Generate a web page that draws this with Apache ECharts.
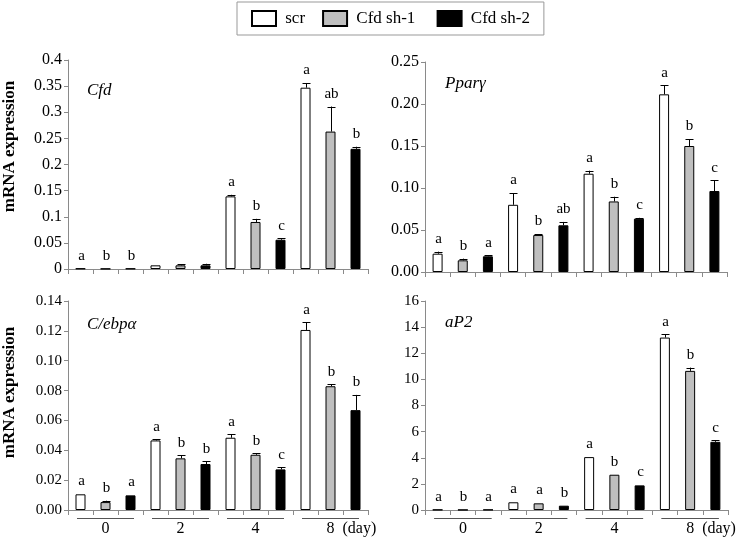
<!DOCTYPE html>
<html><head><meta charset="utf-8">
<script src="https://cdn.jsdelivr.net/npm/echarts@6/dist/echarts.min.js"></script>
<style>html,body{margin:0;padding:0;background:#fff}#c{width:743px;height:541px}</style>
</head><body><div id="c"></div>
<script>
// ---------- data ----------
const days = ['0', '2', '4', '8'];
const dayUnit = '(day)';
const seriesNames = ['scr', 'Cfd sh-1', 'Cfd sh-2'];
const genes = ['Cfd', 'Pparγ', 'C/ebpα', 'aP2'];

// Cfd
const cfdScr = [0.001, 0.007, 0.139, 0.347];
const cfdScrErr = [0.0003, 0.001, 0.003, 0.009];
const cfdSh1 = [0.0005, 0.007, 0.090, 0.263];
const cfdSh1Err = [0.0002, 0.002, 0.006, 0.048];
const cfdSh2 = [0.0008, 0.007, 0.056, 0.230];
const cfdSh2Err = [0.0002, 0.003, 0.003, 0.004];
const cfdLetScr = ['a', '', 'a', 'a'];
const cfdLetSh1 = ['b', '', 'b', 'ab'];
const cfdLetSh2 = ['b', '', 'c', 'b'];

// Pparγ
const pparScr = [0.0218, 0.080, 0.117, 0.2115];
const pparScrErr = [0.0024, 0.014, 0.0036, 0.0107];
const pparSh1 = [0.0139, 0.044, 0.084, 0.150];
const pparSh1Err = [0.002, 0.0012, 0.0056, 0.0083];
const pparSh2 = [0.0187, 0.0556, 0.0635, 0.0964];
const pparSh2Err = [0.001, 0.004, 0.001, 0.013];
const pparLetScr = ['a', 'a', 'a', 'a'];
const pparLetSh1 = ['b', 'b', 'b', 'b'];
const pparLetSh2 = ['a', 'ab', 'c', 'c'];

// C/ebpα
const cebpScr = [0.0105, 0.0466, 0.0484, 0.1206];
const cebpScrErr = [0.0003, 0.0009, 0.0022, 0.0051];
const cebpSh1 = [0.0053, 0.0346, 0.0370, 0.0829];
const cebpSh1Err = [0.0009, 0.0022, 0.0011, 0.0013];
const cebpSh2 = [0.0098, 0.0308, 0.0272, 0.0669];
const cebpSh2Err = [0.0005, 0.0018, 0.0013, 0.0102];
const cebpLetScr = ['a', 'a', 'a', 'a'];
const cebpLetSh1 = ['b', 'b', 'b', 'b'];
const cebpLetSh2 = ['a', 'b', 'c', 'b'];

// aP2
const ap2Scr = [0.02, 0.59, 4.05, 13.2];
const ap2ScrErr = [0.01, 0.05, 0.05, 0.25];
const ap2Sh1 = [0.01, 0.51, 2.70, 10.65];
const ap2Sh1Err = [0.01, 0.04, 0.03, 0.25];
const ap2Sh2 = [0.02, 0.33, 1.885, 5.22];
const ap2Sh2Err = [0.01, 0.03, 0.03, 0.13];
const ap2LetScr = ['a', 'a', 'a', 'a'];
const ap2LetSh1 = ['b', 'a', 'b', 'b'];
const ap2LetSh2 = ['a', 'b', 'c', 'c'];

// y-axis scales
const yMax = [0.4, 0.25, 0.14, 16];
const yInterval = [0.05, 0.05, 0.02, 2];
const yDecimals = [-1, 2, 2, 0];

// ---------- build ----------
const panels = [
  {vals: [cfdScr, cfdSh1, cfdSh2], errs: [cfdScrErr, cfdSh1Err, cfdSh2Err], lets: [cfdLetScr, cfdLetSh1, cfdLetSh2]},
  {vals: [pparScr, pparSh1, pparSh2], errs: [pparScrErr, pparSh1Err, pparSh2Err], lets: [pparLetScr, pparLetSh1, pparLetSh2]},
  {vals: [cebpScr, cebpSh1, cebpSh2], errs: [cebpScrErr, cebpSh1Err, cebpSh2Err], lets: [cebpLetScr, cebpLetSh1, cebpLetSh2]},
  {vals: [ap2Scr, ap2Sh1, ap2Sh2], errs: [ap2ScrErr, ap2Sh1Err, ap2Sh2Err], lets: [ap2LetScr, ap2LetSh1, ap2LetSh2]}
];

const F = 'Liberation Serif';
const AX = '#8a8a8a';
const barStyles = [
  {color: '#ffffff', borderColor: '#000', borderWidth: 1},
  {color: '#bfbfbf', borderColor: '#000', borderWidth: 1},
  {color: '#000000', borderColor: '#000', borderWidth: 1}
];
const grids = [
  {left: 68, top: 60, width: 300, height: 209},
  {left: 425, top: 62, width: 302, height: 210},
  {left: 68, top: 301, width: 300, height: 209},
  {left: 425, top: 301, width: 303, height: 209}
];
const titlePos = [
  {left: 82, top: 77}, {left: 440, top: 70}, {left: 82, top: 311}, {left: 440, top: 309}
];

const slots = [];
days.forEach(d => seriesNames.forEach(s => slots.push(d + '_' + s)));

const xAxes = [], yAxes = [], series = [], titles = [];
panels.forEach((p, pi) => {
  titles.push({text: genes[pi], left: titlePos[pi].left, top: titlePos[pi].top,
    textStyle: {fontFamily: F, fontSize: 17, fontStyle: 'italic', fontWeight: 'normal', color: '#000'}});
  xAxes.push({type: 'category', gridIndex: pi, data: slots, boundaryGap: true,
    axisLine: {lineStyle: {color: AX, width: 1}},
    axisTick: {show: true, alignWithLabel: false, inside: false, length: 5, interval: 0, lineStyle: {color: AX}},
    axisLabel: {show: false}, splitLine: {show: false}});
  const dec = yDecimals[pi];
  const ya = {type: 'value', gridIndex: pi, min: 0, max: yMax[pi], interval: yInterval[pi],
    axisLine: {show: true, lineStyle: {color: AX, width: 1}},
    axisTick: {show: true, length: 4, lineStyle: {color: AX}},
    splitLine: {show: false},
    axisLabel: {fontFamily: F, fontSize: pi < 2 ? 16 : 15, color: '#000', margin: 6,
      formatter: v => dec < 0 ? String(+v.toFixed(3)) : v.toFixed(dec)}};
  if (pi % 2 === 0) {
    ya.name = 'mRNA expression';
    ya.nameLocation = 'middle';
    ya.nameGap = 50;
    ya.nameTextStyle = {fontFamily: F, fontSize: 17, fontWeight: 'bold', color: '#000',
      padding: [0, 0, 0, pi === 0 ? 36 : 26]};
  }
  yAxes.push(ya);

  // bars
  for (let s = 0; s < 3; s++) {
    const data = slots.map(() => null);
    p.vals[s].forEach((v, d) => { data[d * 3 + s] = v; });
    series.push({type: 'bar', name: seriesNames[s], xAxisIndex: pi, yAxisIndex: pi,
      data, barWidth: 10, barGap: '-100%', itemStyle: barStyles[s], animation: false});
  }
  // error bars + letters
  const eData = [], eLet = [];
  for (let d = 0; d < 4; d++) for (let s = 0; s < 3; s++) {
    eData.push([d * 3 + s, p.vals[s][d], p.errs[s][d]]);
    eLet.push(p.lets[s][d]);
  }
  series.push({type: 'custom', xAxisIndex: pi, yAxisIndex: pi, data: eData, clip: false, animation: false,
    z: 5, silent: true,
    renderItem: (params, api) => {
      const x = api.value(0), v = api.value(1), e = api.value(2);
      const b = api.coord([x, v]), t = api.coord([x, v + e]);
      const cx = Math.round(b[0]) + 0.5;
      const children = [];
      if (t[1] < b[1] - 0.8) {
        children.push({type: 'line', shape: {x1: cx, y1: b[1], x2: cx, y2: t[1]}, style: {stroke: '#000', lineWidth: 1}});
        children.push({type: 'line', shape: {x1: cx - 4, y1: Math.round(t[1]) + 0.5, x2: cx + 4, y2: Math.round(t[1]) + 0.5}, style: {stroke: '#000', lineWidth: 1}});
      }
      const letter = eLet[params.dataIndex];
      if (letter) children.push({type: 'text', x: cx, y: t[1] - 5,
        style: {text: letter, font: '15px "Liberation Serif"', fill: '#000', align: 'center', verticalAlign: 'bottom'}});
      return {type: 'group', children};
    }});
});

// day axes for bottom panels
[2, 3].forEach((pi, k) => {
  const xi = xAxes.length;
  xAxes.push({type: 'category', gridIndex: pi, position: 'bottom', data: days, boundaryGap: true,
    axisLine: {show: false}, axisTick: {show: false},
    axisLabel: {interval: 0, fontFamily: F, fontSize: 16, color: '#000', margin: 11, hideOverlap: false,
      formatter: (v, i) => i === days.length - 1 ? '{h|' + dayUnit + '  }' + v + '  ' + dayUnit : v,
      rich: {h: {color: 'rgba(0,0,0,0)', fontFamily: F, fontSize: 16}}}});
  series.push({type: 'custom', xAxisIndex: xi, yAxisIndex: pi, data: days.map((d, i) => [i, 0]),
    clip: false, animation: false, silent: true,
    renderItem: (params, api) => {
      const c = api.coord([api.value(0), 0]);
      const w = api.size([1, 0])[0] * 0.76;
      const y = Math.round(c[1]) + 8.5;
      return {type: 'line', shape: {x1: c[0] - w / 2, y1: y, x2: c[0] + w / 2, y2: y},
        style: {stroke: '#555', lineWidth: 1}};
    }});
});

const NB = '\u00A0';
const option = {
  backgroundColor: '#fff',
  animation: false,
  title: titles,
  legend: {
    left: 237, top: 2, itemWidth: 24, itemHeight: 15, itemGap: 17, selectedMode: false,
    padding: [8, 14, 8, 14], borderColor: '#999', borderWidth: 1, icon: 'rect',
    textStyle: {fontFamily: F, fontSize: 17, color: '#000'},
    formatter: n => NB + n + (n === seriesNames[1] ? NB : ''),
    data: seriesNames
  },
  grid: grids,
  xAxis: xAxes,
  yAxis: yAxes,
  series
};
const chart = echarts.init(document.getElementById('c'), null, {renderer: 'canvas'});
chart.setOption(option);
</script></body></html>
